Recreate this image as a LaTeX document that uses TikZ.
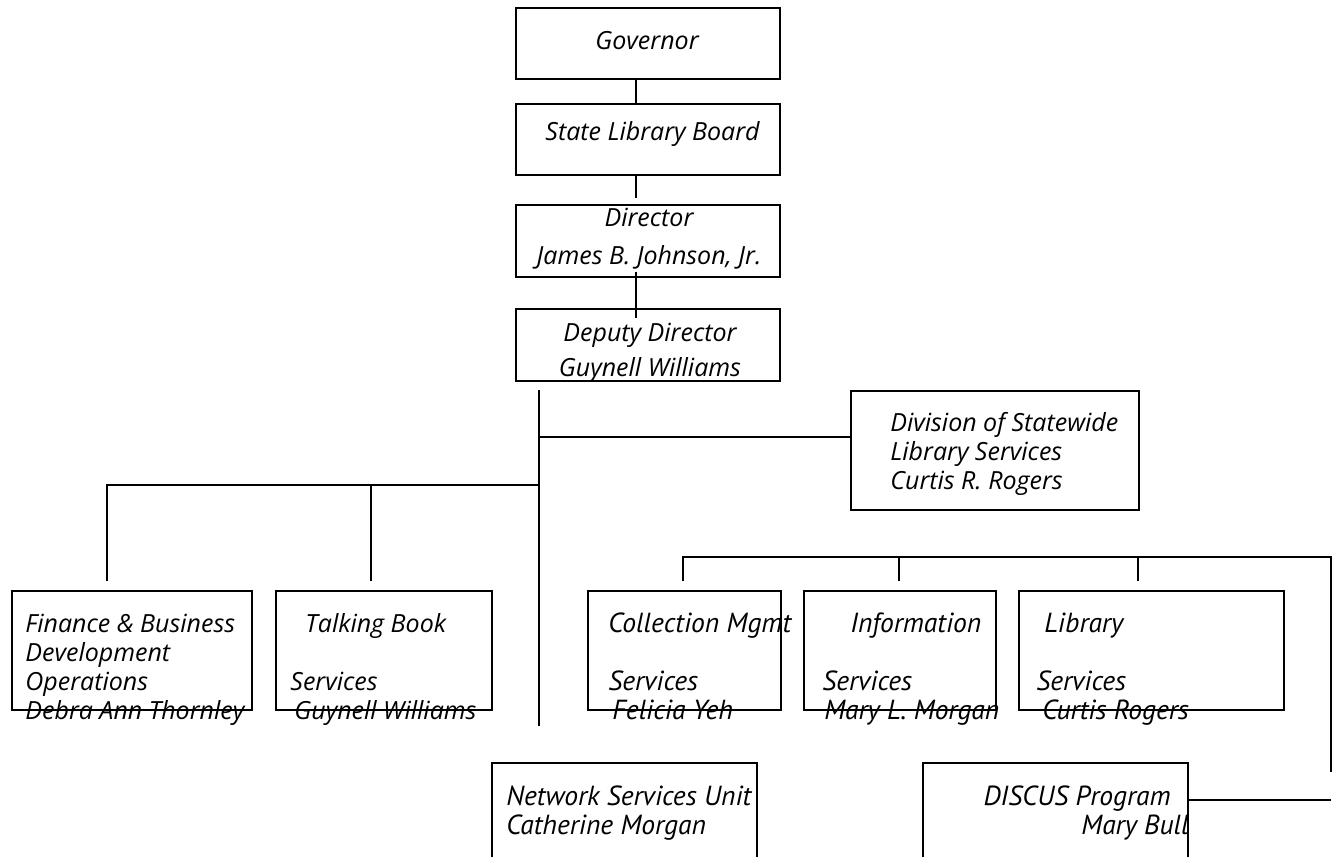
\documentclass[tikz,border=0pt]{standalone}
\usepackage{fontspec}
\setmainfont{Open Sans}
\newfontfamily\narrowfont{PT Sans}
\usetikzlibrary{
  calc,
  positioning,
}
\tikzset{
  orgbox/.style={draw, line width=1pt, inner sep=0pt, anchor=north west},
  orgtext/.style={font=\fontsize{12.5}{14.5}\selectfont\itshape, align=left, inner sep=0pt, anchor=base west},
  unittext/.style={orgtext, font=\fontsize{13.8}{14.5}\selectfont\narrowfont\itshape},
  orgline/.style={line width=1pt},
}

\begin{document}
\begin{tikzpicture}[x=0.5pt, y=-0.5pt]
  \useasboundingbox (0,0) rectangle (1334,857);
  \clip (0,0) rectangle (1334,857);
  % top of the chart (text anchored on its last baseline)
  \node[orgbox, minimum width=132pt, minimum height=35.5pt] (gov) at (515,7) {};
  \node[orgbox, minimum width=132pt, minimum height=35.5pt] (board) at (515,103) {};
  \node[orgbox, minimum width=132pt, minimum height=36pt] (dir) at (515,204) {};
  \node[orgbox, minimum width=132pt, minimum height=36pt] (dep) at (515,308) {};
  \node[orgtext, anchor=base] (gov-t) at (647,49) {Governor};
  \node[orgtext] (board-t) at (545,140) {State Library Board};
  \node[orgtext, align=center, anchor=base] (dir-t) at (649,264) {Director\\[4.5pt]James B. Johnson, Jr.};
  \node[orgtext, align=center, anchor=base] (dep-t) at (650,376) {Deputy Director\\[3pt]Guynell Williams};
  \draw[orgline] ([xshift=-6pt]gov.south) -- ([xshift=-6pt]board.north);
  \draw[orgline] ([xshift=-6pt]board.south) -- ([xshift=-6pt,yshift=3pt]dir.north);
  \draw[orgline] ([xshift=-6pt,yshift=3pt]dir.south) -- ([xshift=-6pt,yshift=-5pt]dep.north);

  % division
  \node[orgbox, minimum width=144pt, minimum height=59.5pt] (div) at (850,390) {};
  \node[orgtext] (div-t) at (890,489) {Division of Statewide\\Library Services\\Curtis R. Rogers};

  % units under the deputy
  \node[orgbox, minimum width=120pt, minimum height=59.5pt] (fin) at (11,590) {};
  \node[orgbox, minimum width=108pt, minimum height=59.5pt] (talk) at (275,590) {};
  \node[orgbox, minimum width=132.5pt, minimum height=62pt] (net) at (491,762) {};
  \node[orgtext] (fin-t) at (25,719) {Finance \& Business\\Development\\Operations\\Debra Ann Thornley};
  \node[orgtext] (talk-t) at (290,719) {\hspace*{7.5pt}Talking Book\\\mbox{}\\Services\\\hspace*{2pt}Guynell Williams};
  \node[unittext] (net-t) at (506,834) {Network Services Unit\\Catherine Morgan};

  % units under the division
  \node[orgbox, minimum width=96.5pt, minimum height=59.5pt] (coll) at (587,590) {};
  \node[orgbox, minimum width=96pt, minimum height=59.5pt] (info) at (803,590) {};
  \node[orgbox, minimum width=132.5pt, minimum height=59.5pt] (lib) at (1018,590) {};
  \node[orgbox, minimum width=132.5pt, minimum height=62pt] (disc) at (922,762) {};
  \node[unittext] (coll-t) at (608,719) {Collection Mgmt\\\mbox{}\\Services\\\hspace*{2pt}Felicia Yeh};
  \node[unittext] (info-t) at (822,719) {\hspace*{14pt}Information\\\mbox{}\\Services\\\hspace*{1pt}Mary L. Morgan};
  \node[unittext] (lib-t) at (1036,719) {\hspace*{4pt}Library\\\mbox{}\\Services\\\hspace*{3pt}Curtis Rogers};
  \node[unittext, align=right, anchor=base east] (disc-t) at (1189,834) {DISCUS Program\hspace*{9pt}\\Mary Bull};

  % trunk and branches
  \coordinate (trunktop) at (539,390);
  \coordinate (trunkend) at (539,726);
  \coordinate (divjoin) at (539,437);
  \coordinate (leftjoin) at (539,485);
  \coordinate (findrop) at (107,581);
  \coordinate (talkdrop) at (371,581);
  \draw[orgline] (trunktop) -- (trunkend);
  \draw[orgline] (divjoin) -- (divjoin -| div.west);
  \draw[orgline] (leftjoin) -- (leftjoin -| findrop) -- (findrop);
  \draw[orgline] (talkdrop) -- (talkdrop |- leftjoin);

  \coordinate (barleft) at (683,557);
  \coordinate (barright) at (1331,557);
  \coordinate (collDrop) at (683,581);
  \coordinate (infoDrop) at (899,581);
  \coordinate (libDrop) at (1138,581);
  \coordinate (barend) at (1331,772);
  \coordinate (discjoin) at (1331,800);
  \draw[orgline] (collDrop) -- (barleft) -- (barright) -- (barend);
  \draw[orgline] (infoDrop) -- (infoDrop |- barleft);
  \draw[orgline] (libDrop) -- (libDrop |- barleft);
  \draw[orgline] (discjoin -| disc.east) -- (discjoin);
\end{tikzpicture}
\end{document}
